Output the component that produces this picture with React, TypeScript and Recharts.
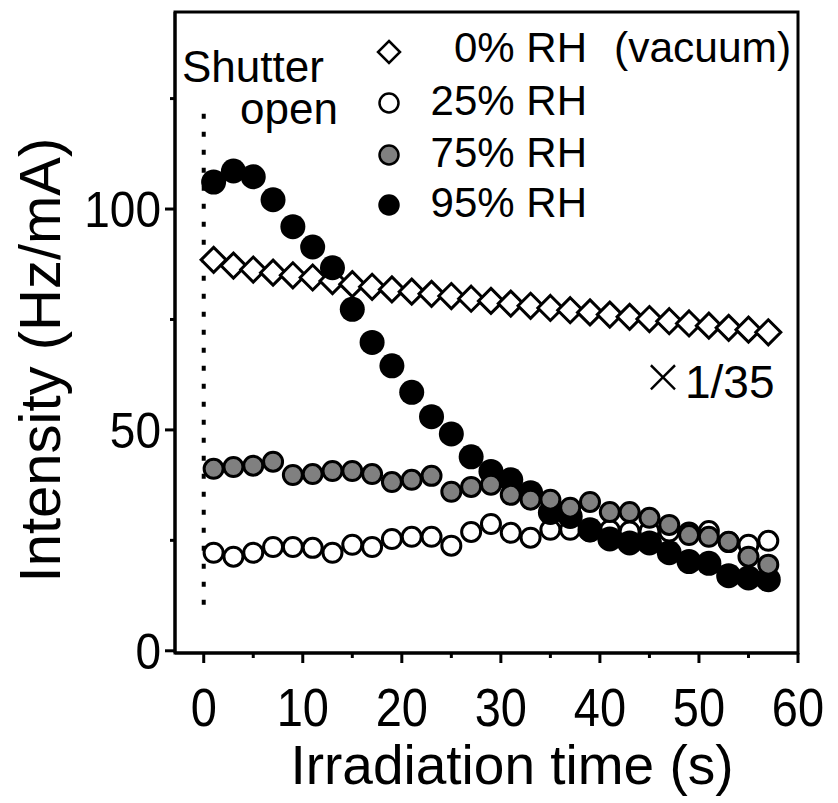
import React from "react";
import {
  Legend,
  ReferenceArea,
  ReferenceLine,
  Scatter,
  ScatterChart,
  XAxis,
  YAxis,
} from "recharts";

const FONT = "'Liberation Sans', Arial, sans-serif";

// irradiation time (s), one point every 2 s
const time = [
  1, 3, 5, 7, 9, 11, 13, 15, 17, 19, 21, 23, 25, 27, 29, 31, 33, 35, 37, 39,
  41, 43, 45, 47, 49, 51, 53, 55, 57,
];

// 0% RH (vacuum), already scaled x 1/35
const rh0 = [
  88.5, 87.2, 86.3, 85.6, 85.0, 84.5, 83.7, 83.0, 82.4, 81.8, 81.3, 80.8,
  80.3, 79.7, 79.2, 78.6, 78.1, 77.6, 77.1, 76.6, 76.1, 75.6, 75.1, 74.6,
  74.1, 73.6, 73.1, 72.7, 72.1,
];
const rh25 = [
  22.2, 21.3, 22.2, 23.5, 23.5, 23.3, 22.2, 24.0, 23.5, 25.3, 25.8, 25.8,
  23.8, 26.9, 28.7, 26.7, 25.6, 27.4, 27.4, 27.0, 27.3, 27.0, 27.0, 27.0,
  26.8, 27.1, 24.6, 24.0, 24.9,
];
const rh75 = [
  41.2, 41.6, 41.9, 42.8, 39.8, 40.0, 40.7, 40.7, 40.0, 38.2, 38.7, 39.6,
  36.0, 37.1, 37.6, 35.3, 34.2, 34.2, 32.4, 33.7, 31.4, 31.4, 30.1, 28.5,
  26.2, 25.8, 24.7, 21.3, 19.5,
];
const rh95 = [
  106.1, 108.6, 107.3, 102.1, 96.0, 91.4, 86.7, 77.3, 69.8, 64.5, 58.5, 53.0,
  49.1, 43.9, 40.6, 38.7, 35.8, 31.3, 30.4, 27.4, 25.3, 24.4, 24.4, 22.2,
  20.2, 19.8, 17.0, 16.5, 16.1,
];

const xTicks = [0, 5, 10, 15, 20, 25, 30, 35, 40, 45, 50, 55, 60];
const yTicks = [0, 25, 50, 75, 100, 125];

const toPoints = (vals: number[]) => time.map((t, i) => ({ t, v: vals[i] }));

const diamond = (props: any) => {
  const { cx, cy } = props;
  const r = 12.5;
  return (
    <path
      d={`M${cx},${cy - r}L${cx + r},${cy}L${cx},${cy + r}L${cx - r},${cy}Z`}
      fill="#fff"
      stroke="#000"
      strokeWidth={3}
      strokeLinejoin="miter"
    />
  );
};

const circle = (fill: string, r: number, sw: number) => (props: any) =>
  (
    <circle
      cx={props.cx}
      cy={props.cy}
      r={r}
      fill={fill}
      stroke="#000"
      strokeWidth={sw}
    />
  );

const XTick = (props: any) => {
  const { x, y, payload } = props;
  const major = payload.value % 10 === 0;
  return (
    <g>
      <line x1={x} x2={x} y1={y} y2={y + (major ? 10 : 5)} stroke="#000" strokeWidth={3} />
      {major && (
        <text
          transform={`translate(${x}, ${y + 73}) scale(1, 1.15)`}
          textAnchor="middle"
          fontSize={47}
          fontFamily={FONT}
          fill="#000"
        >
          {payload.value}
        </text>
      )}
    </g>
  );
};

const YTick = (props: any) => {
  const { x, y, payload } = props;
  const major = payload.value % 50 === 0;
  return (
    <g>
      <line x1={x - (major ? 10 : 5)} x2={x} y1={y} y2={y} stroke="#000" strokeWidth={3} />
      {major && (
        <text
          transform={`translate(${x - 14}, ${y + 18}) scale(1, 1.1)`}
          textAnchor="end"
          fontSize={46}
          fontFamily={FONT}
          fill="#000"
        >
          {payload.value}
        </text>
      )}
    </g>
  );
};

const legendRows = [
  { label: "0% RH", kind: "diamond", cy: 24 },
  { label: "25% RH", kind: "#fff", cy: 75 },
  { label: "75% RH", kind: "#808080", cy: 127 },
  { label: "95% RH", kind: "#000", cy: 177 },
];

const LegendBox = () => (
  <svg width={470} height={200} style={{ overflow: "visible" }}>
    {legendRows.map((row) => (
      <g key={row.label}>
        {row.kind === "diamond" ? (
          <path
            d={`M31,${row.cy - 11}L42,${row.cy}L31,${row.cy + 11}L20,${row.cy}Z`}
            fill="#fff"
            stroke="#000"
            strokeWidth={2.5}
          />
        ) : (
          <circle cx={31} cy={row.cy} r={9.5} fill={row.kind} stroke="#000" strokeWidth={2.5} />
        )}
        <text
          x={229}
          y={row.cy + (row.kind === "diamond" ? 10 : 12)}
          textAnchor="end"
          fontSize={42}
          fontFamily={FONT}
          fill="#000"
        >
          {row.label}
        </text>
      </g>
    ))}
    <text x={256} y={34} fontSize={42.5} fontFamily={FONT} fill="#000">
      (vacuum)
    </text>
  </svg>
);

export default function App() {
  return (
    <div style={{ position: "relative", width: 830, height: 795 }}>
      <ScatterChart
        width={830}
        height={795}
        margin={{ top: 4, right: 40, bottom: 50, left: 87 }}
      >
        <XAxis
          type="number"
          dataKey="t"
          domain={[-2.9, 60]}
          ticks={xTicks}
          allowDataOverflow
          height={100}
          tickSize={0}
          tickMargin={0}
          tickLine={false}
          tick={<XTick />}
          axisLine={{ stroke: "#000", strokeWidth: 3 }}
        />
        <YAxis
          type="number"
          dataKey="v"
          domain={[-0.5, 144.6]}
          ticks={yTicks}
          allowDataOverflow
          width={80}
          tickSize={0}
          tickMargin={0}
          tickLine={false}
          tick={<YTick />}
          axisLine={{ stroke: "#000", strokeWidth: 3 }}
        />
        <ReferenceArea
          x1={-2.9}
          x2={60}
          y1={-0.5}
          y2={144.6}
          fill="none"
          stroke="#000"
          strokeWidth={3}
          ifOverflow="visible"
        />
        <ReferenceLine
          segment={[
            { x: 0, y: 10.4 },
            { x: 0, y: 124.5 },
          ]}
          stroke="#000"
          strokeWidth={4}
          strokeDasharray="5 13"
        />
        <Scatter data={toPoints(rh0)} shape={diamond} isAnimationActive={false} />
        <Scatter data={toPoints(rh25)} shape={circle("#fff", 9.5, 3)} isAnimationActive={false} />
        <Scatter data={toPoints(rh95)} shape={circle("#000", 12.5, 0)} isAnimationActive={false} />
        <Scatter data={toPoints(rh75)} shape={circle("#808080", 9.5, 3)} isAnimationActive={false} />
        <Legend
          layout="vertical"
          align="center"
          verticalAlign="middle"
          content={() => <LegendBox />}
          wrapperStyle={{ position: "absolute", left: 350, top: 20, width: 470, height: 200 }}
        />
      </ScatterChart>
      <svg
        width={830}
        height={795}
        style={{ position: "absolute", left: 0, top: 0, pointerEvents: "none" }}
      >
        <g fontFamily={FONT} fill="#000">
          <text x={174} y={74} fontSize={44}>Shutter</text>
          <text x={232} y={116} fontSize={44}>open</text>
          <text
            x={634}
            y={385}
            fontSize={50}
            fontFamily="'DejaVu Sans', sans-serif"
            fontWeight={200}
          >
            ×
          </text>
          <text x={677} y={390} fontSize={46}>1/35</text>
          <text x={504} y={776} fontSize={55} textAnchor="middle">
            Irradiation time (s)
          </text>
          <text
            transform="translate(52, 352) rotate(-90)"
            fontSize={58}
            textAnchor="middle"
          >
            Intensity (Hz/mA)
          </text>
        </g>
      </svg>
    </div>
  );
}
